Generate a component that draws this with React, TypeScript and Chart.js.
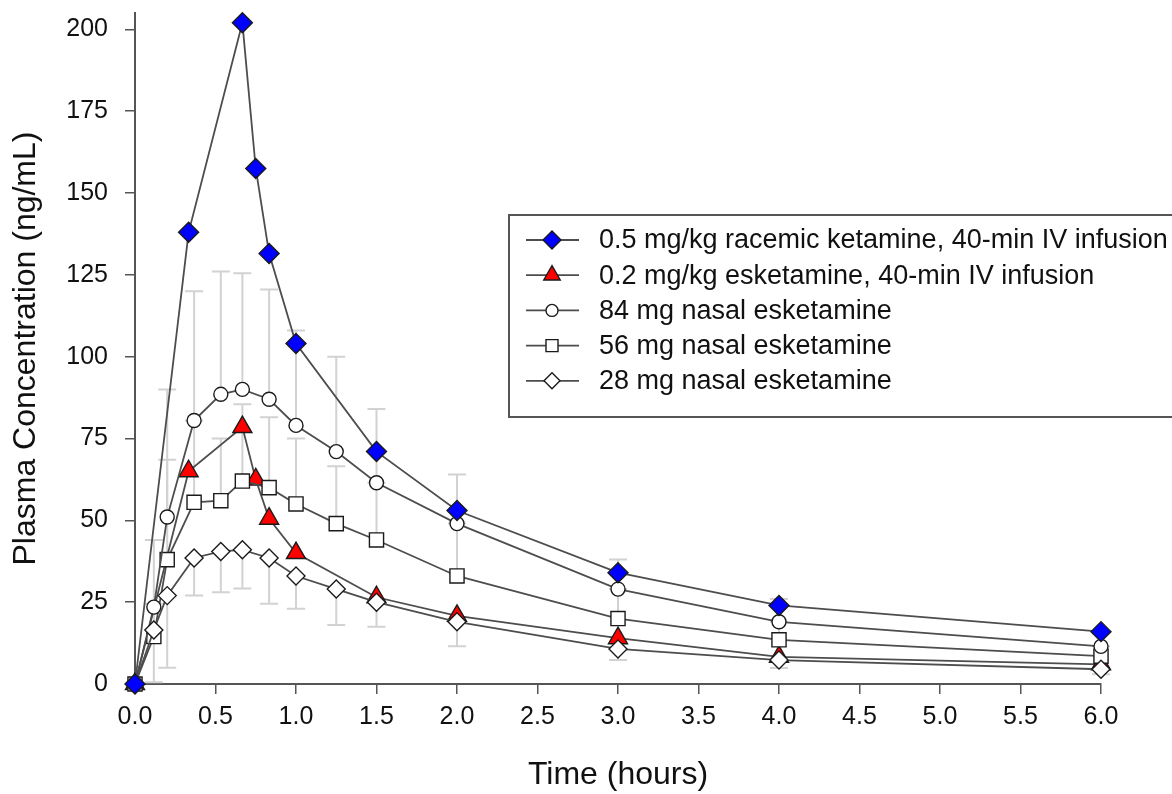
import React, { useEffect, useRef } from "react";
import { Chart, registerables } from "chart.js";

Chart.register(...registerables);

// ---- data ----
const ivTimes = [0, 0.333, 0.667, 0.75, 0.833, 1.0, 1.5, 2, 3, 4, 6];
const racemic05Iv = [0, 138, 202, 157.5, 131.5, 104, 71, 53, 34, 24, 16];
const esketamine02Iv = [0, 65, 78.5, 62.5, 50.5, 40, 26.5, 20.8, 14, 8.3, 6];

const nasalTimes = [0, 0.117, 0.2, 0.367, 0.533, 0.667, 0.833, 1.0, 1.25, 1.5, 2, 3, 4, 6];
const nasal84 = [0, 23.5, 51, 80.5, 88.5, 90, 87, 79, 71, 61.5, 49, 29, 19, 11.5];
const nasal84SdUp = [0, 20.5, 39, 39.5, 37.5, 35.5, 33.5, 29, 29, 22.5, 15, 9, 7, 4];
const nasal56 = [0, 14.5, 38, 55.5, 56, 62, 60, 55, 49, 44, 33, 20, 13.5, 8.5];
const nasal56SdUp = [0, 10, 30.5, 25, 19, 23.5, 21.5, 20, 17.5, 17.5, 16, 9, 5.5, 3];
const nasal28 = [0, 16.5, 27, 38.5, 40.5, 41, 38.5, 33, 29, 25, 19, 10.7, 7.3, 4.5];
const nasal28SdDown = [0, 16, 22, 11.5, 12.5, 11.8, 14, 10, 11, 7.5, 7.5, 3.4, 2.4, 1.5];

const seriesLabels = [
  "0.5 mg/kg racemic ketamine, 40-min IV infusion",
  "0.2 mg/kg esketamine, 40-min IV infusion",
  "84 mg nasal esketamine",
  "56 mg nasal esketamine",
  "28 mg nasal esketamine",
];

const xTickValues = [0, 0.5, 1, 1.5, 2, 2.5, 3, 3.5, 4, 4.5, 5, 5.5, 6];
const yTickValues = [0, 25, 50, 75, 100, 125, 150, 175, 200];

const xTitle = "Time (hours)";
const yTitle = "Plasma Concentration (ng/mL)";

// ---- styles ----
const FONT = "'Liberation Sans', Arial, sans-serif";
const LINE = "#4d4d4d";
const EDGE = "#1a1a1a";

type MarkerStyle = { shape: string; radius: number; fill: string; legendRadius: number };
const markerStyles: MarkerStyle[] = [
  { shape: "rectRot", radius: 10, fill: "#0000ff", legendRadius: 9 },
  { shape: "triangle", radius: 11, fill: "#ff0000", legendRadius: 9.5 },
  { shape: "circle", radius: 7, fill: "#ffffff", legendRadius: 6 },
  { shape: "rect", radius: 10, fill: "#ffffff", legendRadius: 8.5 },
  { shape: "rectRot", radius: 9, fill: "#ffffff", legendRadius: 8 },
];

const toPoints = (xs: number[], ys: number[]) => xs.map((x, i) => ({ x, y: ys[i] }));

const errorSeries = [
  { times: nasalTimes, values: nasal84, sd: nasal84SdUp, dir: 1 },
  { times: nasalTimes, values: nasal56, sd: nasal56SdUp, dir: 1 },
  { times: nasalTimes, values: nasal28, sd: nasal28SdDown, dir: -1 },
];

const errorBarPlugin = {
  id: "errorBars",
  beforeDatasetsDraw(chart: any) {
    const { ctx } = chart;
    const xs = chart.scales.x;
    const ys = chart.scales.y;
    ctx.save();
    ctx.strokeStyle = "#d2d2d2";
    ctx.lineWidth = 2;
    for (const s of errorSeries) {
      s.values.forEach((v, i) => {
        const sd = s.sd[i];
        if (!sd) return;
        const px = xs.getPixelForValue(s.times[i]);
        const p0 = ys.getPixelForValue(v);
        const p1 = ys.getPixelForValue(v + s.dir * sd);
        ctx.beginPath();
        ctx.moveTo(px, p0);
        ctx.lineTo(px, p1);
        ctx.moveTo(px - 9, p1);
        ctx.lineTo(px + 9, p1);
        ctx.stroke();
      });
    }
    ctx.restore();
  },
};

function drawMarker(ctx: CanvasRenderingContext2D, shape: string, x: number, y: number, r: number) {
  ctx.beginPath();
  if (shape === "circle") {
    ctx.arc(x, y, r, 0, Math.PI * 2);
  } else if (shape === "rect") {
    const h = r * Math.SQRT1_2;
    ctx.rect(x - h, y - h, 2 * h, 2 * h);
  } else if (shape === "rectRot") {
    ctx.moveTo(x - r, y);
    ctx.lineTo(x, y - r);
    ctx.lineTo(x + r, y);
    ctx.lineTo(x, y + r);
    ctx.closePath();
  } else if (shape === "triangle") {
    let a = 0;
    ctx.moveTo(x + Math.sin(a) * r, y - Math.cos(a) * r);
    a += (2 * Math.PI) / 3;
    ctx.lineTo(x + Math.sin(a) * r, y - Math.cos(a) * r);
    a += (2 * Math.PI) / 3;
    ctx.lineTo(x + Math.sin(a) * r, y - Math.cos(a) * r);
    ctx.closePath();
  }
}

const legendPlugin = {
  id: "boxLegend",
  afterDraw(chart: any) {
    const { ctx } = chart;
    const left = 509;
    const top = 215;
    const bottom = 417;
    ctx.save();
    ctx.fillStyle = "#ffffff";
    ctx.fillRect(left, top, chart.width - left + 5, bottom - top);
    ctx.strokeStyle = "#555555";
    ctx.lineWidth = 2;
    ctx.strokeRect(left, top, chart.width - left + 5, bottom - top);
    const rowY0 = 240;
    const rowGap = 35.2;
    seriesLabels.forEach((label, i) => {
      const y = rowY0 + i * rowGap;
      const m = markerStyles[i];
      ctx.strokeStyle = LINE;
      ctx.lineWidth = 1.8;
      ctx.beginPath();
      ctx.moveTo(526, y);
      ctx.lineTo(579, y);
      ctx.stroke();
      drawMarker(ctx, m.shape, 552, y, m.legendRadius);
      ctx.fillStyle = m.fill;
      ctx.fill();
      ctx.strokeStyle = EDGE;
      ctx.lineWidth = 1.4;
      ctx.stroke();
      ctx.fillStyle = "#111111";
      ctx.font = `27px ${FONT}`;
      ctx.textBaseline = "middle";
      ctx.textAlign = "left";
      ctx.fillText(label, 599, y + 1);
    });
    ctx.restore();
  },
};

export default function App() {
  const ref = useRef<HTMLCanvasElement>(null);

  useEffect(() => {
    document.body.style.margin = "0";
    const canvas = ref.current;
    if (!canvas) return;

    const seriesData = [
      toPoints(ivTimes, racemic05Iv),
      toPoints(ivTimes, esketamine02Iv),
      toPoints(nasalTimes, nasal84),
      toPoints(nasalTimes, nasal56),
      toPoints(nasalTimes, nasal28),
    ];
    const drawOrder = [0, 4, 2, 3, 1];

    const datasets = seriesData.map((data, i) => ({
      label: seriesLabels[i],
      data,
      borderColor: LINE,
      borderWidth: 1.8,
      tension: 0,
      fill: false,
      clip: false as any,
      order: drawOrder[i],
      pointStyle: markerStyles[i].shape as any,
      pointRadius: markerStyles[i].radius,
      pointBackgroundColor: markerStyles[i].fill,
      pointBorderColor: EDGE,
      pointBorderWidth: 1.4,
    }));

    const chart = new Chart(canvas, {
      type: "line",
      data: { datasets },
      plugins: [errorBarPlugin, legendPlugin],
      options: {
        animation: false,
        responsive: false,
        events: [],
        layout: { padding: { top: 13, right: 71, bottom: 0, left: 0 } },
        plugins: {
          legend: { display: false },
          tooltip: { enabled: false },
        },
        scales: {
          x: {
            type: "linear",
            min: 0,
            max: 6,
            afterBuildTicks: (s: any) => {
              s.ticks = xTickValues.map((v) => ({ value: v }));
            },
            afterFit: (s: any) => {
              s.height = 110;
              s.paddingLeft = 0;
              s.paddingRight = 0;
            },
            ticks: {
              autoSkip: false,
              maxRotation: 0,
              padding: 8,
              color: "#111111",
              font: { family: FONT, size: 25 },
              callback: (v: any) => Number(v).toFixed(1),
            },
            grid: {
              drawOnChartArea: false,
              drawTicks: true,
              tickLength: 10,
              color: "#555555",
              lineWidth: 1.5,
            },
            border: { display: true, color: "#555555", width: 2 },
            title: {
              display: true,
              text: xTitle,
              color: "#111111",
              font: { family: FONT, size: 32 },
              padding: { top: 0, bottom: 0 },
            },
          },
          y: {
            type: "linear",
            min: 0,
            max: 205,
            afterBuildTicks: (s: any) => {
              s.ticks = yTickValues.map((v) => ({ value: v }));
            },
            afterFit: (s: any) => {
              s.width = 135;
              s.paddingTop = 0;
              s.paddingBottom = 0;
            },
            ticks: {
              autoSkip: false,
              padding: 17,
              color: "#111111",
              font: { family: FONT, size: 25 },
              callback: (v: any) => String(v),
            },
            grid: {
              drawOnChartArea: false,
              drawTicks: true,
              tickLength: 10,
              color: "#555555",
              lineWidth: 1.5,
            },
            border: { display: true, color: "#555555", width: 2 },
            title: {
              display: true,
              text: yTitle,
              color: "#111111",
              font: { family: FONT, size: 32 },
              padding: { top: 7, bottom: 0 },
            },
          },
        },
      } as any,
    });

    return () => chart.destroy();
  }, []);

  return (
    <canvas
      ref={ref}
      width={1172}
      height={794}
      style={{ display: "block", width: 1172, height: 794 }}
    />
  );
}
